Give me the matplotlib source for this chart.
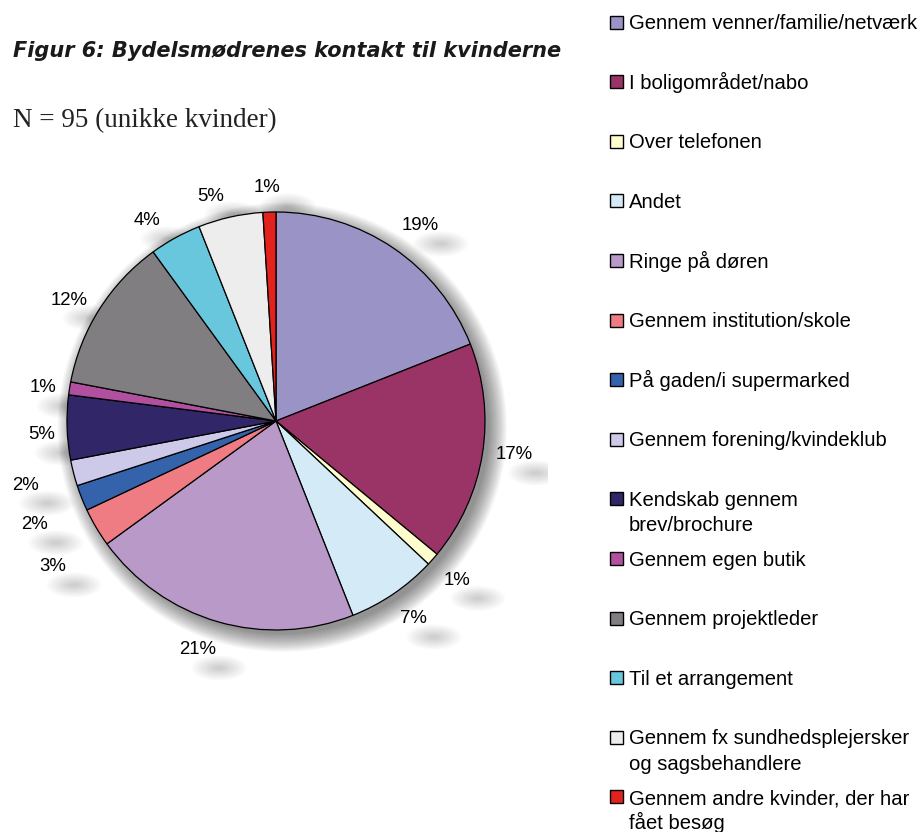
import numpy as np
import matplotlib
matplotlib.use("Agg")
import matplotlib.pyplot as plt
from matplotlib.patches import Circle, Ellipse, Rectangle

categories = [
    "Gennem venner/familie/netværk",
    "I boligområdet/nabo",
    "Over telefonen",
    "Andet",
    "Ringe på døren",
    "Gennem institution/skole",
    "På gaden/i supermarked",
    "Gennem forening/kvindeklub",
    "Kendskab gennem\nbrev/brochure",
    "Gennem egen butik",
    "Gennem projektleder",
    "Til et arrangement",
    "Gennem fx sundhedsplejersker\nog sagsbehandlere",
    "Gennem andre kvinder, der har\nfået besøg",
]
values = [19, 17, 1, 7, 21, 3, 2, 2, 5, 1, 12, 4, 5, 1]
colors = ["#9993C6", "#9A3366", "#FFFCCE", "#D4EAF6", "#B899C8", "#EF7C82",
          "#3463AC", "#CCCAE8", "#302668", "#B0509E", "#817E81", "#69C7DD",
          "#EDEDED", "#E2231D"]

title = "Figur 6: Bydelsmødrenes kontakt til kvinderne"
subtitle = "N = 95 (unikke kvinder)"

W, H = 922, 832
fig = plt.figure(figsize=(W / 100, H / 100), dpi=100)
fig.patch.set_facecolor("white")

# pie axes: centre (276,421) px, radius 209 px
R = 209.0
cx, cy = 276.0, 421.0
lim = 1.3
side = 2 * lim * R
ax = fig.add_axes([(cx - side / 2) / W, (H - cy - side / 2) / H, side / W, side / H])

wedges, _ = ax.pie(values, colors=colors, startangle=90, counterclock=False,
                   radius=1.0, wedgeprops=dict(edgecolor="black", linewidth=0.9),
                   normalize=True)
for w in wedges:
    w.set_zorder(2)
ax.set_xlim(-lim, lim)
ax.set_ylim(-lim, lim)
ax.set_aspect("equal")
ax.axis("off")

# soft shadow of the pie
for k in range(18):
    ax.add_patch(Circle((0.03, -0.03), 0.99 + 0.005 * k, facecolor="#000000",
                        alpha=0.026, edgecolor="none", zorder=0))

# label placement (style tweaks)
label_r = [1.16, 1.153, 1.153, 1.152, 1.157, 1.275, 1.256, 1.235, 1.125, 1.126, 1.147, 1.139, 1.12, 1.116]
label_da = [-2.2, 0.9, 0, 0.5, -2.6, 2.6, 1.7, 0, 1.6, 0.9, 2.1, 4.0, 3.5, 0.4]
for w, v, r, da in zip(wedges, values, label_r, label_da):
    ang = np.deg2rad((w.theta1 + w.theta2) / 2 + da)
    x, y = r * np.cos(ang), r * np.sin(ang)
    # blurred text shadow
    sx, sy = x + 21 / R, y - 18 / R
    for k in range(16):
        ax.add_patch(Ellipse((sx, sy), (8 + 3.2 * k) / R, (3 + 1.5 * k) / R,
                             facecolor="#000000", alpha=0.011, edgecolor="none", zorder=1))
    ax.text(x, y, f"{v}%", ha="center", va="center", fontsize=13.4,
            family="Liberation Sans", zorder=3)

# titles
fig.text(13 / W, 1 - 57 / H, title, fontsize=15, fontweight="bold", fontstyle="italic",
         family="DejaVu Sans", ha="left", va="baseline", color="#1a1a1a")
fig.text(13 / W, 1 - 127 / H, subtitle, fontsize=19.5, family="Liberation Serif",
         ha="left", va="baseline", color="#222222")

# legend (manual)
lx, tx = 610, 629
y0, dy, line_h = 22, 59.6, 25
sq = 13
for i, (lab, col) in enumerate(zip(categories, colors)):
    y = y0 + i * dy
    fig.patches.append(Rectangle((lx / W, 1 - (y + sq / 2) / H), sq / W, sq / H,
                                 transform=fig.transFigure, facecolor=col,
                                 edgecolor="black", linewidth=1.0))
    for j, line in enumerate(lab.split("\n")):
        fig.text(tx / W, 1 - (y + j * line_h + 7.3) / H, line, fontsize=14.6,
                 family="Liberation Sans", ha="left", va="baseline")

fig.savefig("out.png", dpi=100, facecolor="white")
